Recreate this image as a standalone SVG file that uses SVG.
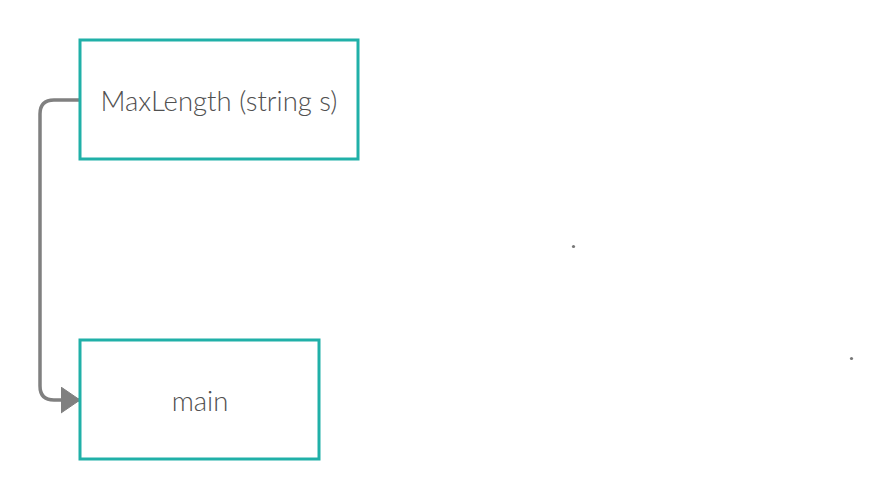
<svg xmlns="http://www.w3.org/2000/svg" width="892" height="500" viewBox="0 0 892 500">
<defs>
<style>
.box{fill:#ffffff;stroke:#20b0a8;stroke-width:3}
.lbl{font-family:Lato,"Liberation Sans",sans-serif;font-weight:300;font-size:27.5px;fill:#505050;text-anchor:middle}
.conn{fill:none;stroke:#808080;stroke-width:3.5}
.dot{fill:#777777}
</style>
<marker id="arr" markerUnits="userSpaceOnUse" markerWidth="20" markerHeight="28" refX="19" refY="13" orient="auto">
<path d="M0,0 L19,13 L0,26 Z" fill="#808080" stroke="#808080" stroke-width="1" stroke-linejoin="round"/>
</marker>
</defs>
<rect width="892" height="500" fill="#ffffff"/>
<g id="connectors">
<path class="conn" d="M80,100 L54,100 Q40,100 40,114 L40,386 Q40,400 54,400 L80,400" marker-end="url(#arr)"/>
</g>
<g id="node-maxlength">
<rect class="box" x="80" y="40" width="278" height="119"/>
<text class="lbl" x="219" y="111">MaxLength (string s)</text>
</g>
<g id="node-main">
<rect class="box" x="80" y="340" width="239" height="119"/>
<text class="lbl" x="200" y="411">main</text>
</g>
<circle class="dot" cx="573.5" cy="246.5" r="1.6"/>
<circle class="dot" cx="851.5" cy="358.5" r="1.6"/>
</svg>
